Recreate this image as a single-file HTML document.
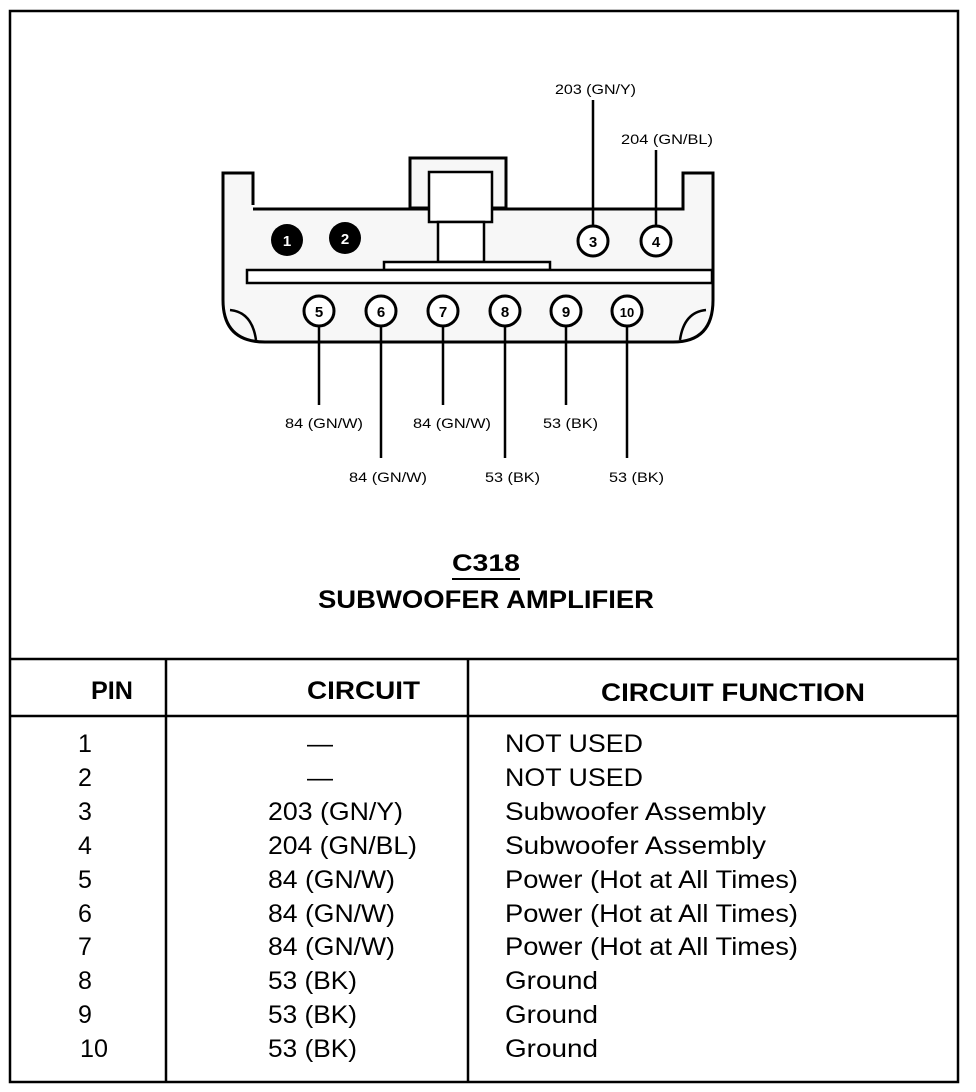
<!DOCTYPE html>
<html><head><meta charset="utf-8"><style>
html,body{margin:0;padding:0;background:#fff}
svg{display:block}
text{font-family:"Liberation Sans",sans-serif;fill:#000}
</style></head><body>
<svg width="976" height="1092" viewBox="0 0 976 1092">
<rect x="10" y="11" width="948" height="1071" fill="none" stroke="#000" stroke-width="2.5"/>
<g fill="none" stroke="#000" stroke-width="3">
<path d="M253,205 L253,173 L223,173 L223,300 Q223,342 265,342 L673,342 Q713,342 713,300 L713,173 L683,173 L683,209 L253,209" fill="#f7f7f7"/>
<path d="M230,310 Q252,312 256,340" stroke-width="2.5"/>
<path d="M706,310 Q684,312 680,340" stroke-width="2.5"/>
<rect x="410" y="158" width="96" height="50" fill="#f7f7f7"/>
<rect x="429" y="172" width="63" height="50" fill="#fff" stroke-width="2.5"/>
<rect x="438" y="222" width="46" height="40" fill="#fff" stroke-width="2.5"/>
<rect x="384" y="262" width="166" height="8" fill="#fff" stroke-width="2.5"/>
<rect x="247" y="270" width="465" height="13" fill="#fff" stroke-width="2.5"/>
</g>
<g stroke="#000" stroke-width="2.5">
<line x1="593" y1="100" x2="593" y2="226"/>
<line x1="656" y1="150" x2="656" y2="226"/>
<line x1="319" y1="325" x2="319" y2="405"/>
<line x1="381" y1="325" x2="381" y2="458"/>
<line x1="443" y1="325" x2="443" y2="405"/>
<line x1="505" y1="325" x2="505" y2="458"/>
<line x1="566" y1="325" x2="566" y2="405"/>
<line x1="627" y1="325" x2="627" y2="458"/>
</g>
<circle cx="287" cy="240" r="16" fill="#000"/>
<circle cx="345" cy="238" r="16" fill="#000"/>
<g fill="#fff" stroke="#000" stroke-width="3">
<circle cx="593" cy="241" r="15"/><circle cx="656" cy="241" r="15"/>
<circle cx="319" cy="311" r="15"/><circle cx="381" cy="311" r="15"/>
<circle cx="443" cy="311" r="15"/><circle cx="505" cy="311" r="15"/>
<circle cx="566" cy="311" r="15"/><circle cx="627" cy="311" r="15"/>
</g>
<g font-size="15" font-weight="bold" text-anchor="middle">
<text x="287" y="246" style="fill:#fff">1</text>
<text x="345" y="244" style="fill:#fff">2</text>
<text x="593" y="247">3</text><text x="656" y="247">4</text>
<text x="319" y="317">5</text><text x="381" y="317">6</text>
<text x="443" y="317">7</text><text x="505" y="317">8</text>
<text x="566" y="317">9</text><text x="627" y="317" font-size="13">10</text>
</g>
<g font-size="14" lengthAdjust="spacingAndGlyphs">
<text x="555" y="94" textLength="81" lengthAdjust="spacingAndGlyphs">203 (GN/Y)</text>
<text x="621" y="144" textLength="92" lengthAdjust="spacingAndGlyphs">204 (GN/BL)</text>
<text x="285" y="428" textLength="78" lengthAdjust="spacingAndGlyphs">84 (GN/W)</text>
<text x="413" y="428" textLength="78" lengthAdjust="spacingAndGlyphs">84 (GN/W)</text>
<text x="543" y="428" textLength="55" lengthAdjust="spacingAndGlyphs">53 (BK)</text>
<text x="349" y="482" textLength="78" lengthAdjust="spacingAndGlyphs">84 (GN/W)</text>
<text x="485" y="482" textLength="55" lengthAdjust="spacingAndGlyphs">53 (BK)</text>
<text x="609" y="482" textLength="55" lengthAdjust="spacingAndGlyphs">53 (BK)</text>
</g>
<text x="452" y="571" font-size="24" font-weight="bold" textLength="68" lengthAdjust="spacingAndGlyphs">C318</text>
<line x1="452" y1="579" x2="520" y2="579" stroke="#000" stroke-width="2"/>
<text x="318" y="608" font-size="25" font-weight="bold" textLength="336" lengthAdjust="spacingAndGlyphs">SUBWOOFER AMPLIFIER</text>
<g stroke="#000" stroke-width="2.5">
<line x1="10" y1="659" x2="958" y2="659"/>
<line x1="10" y1="716" x2="958" y2="716"/>
<line x1="166" y1="659" x2="166" y2="1082"/>
<line x1="468" y1="659" x2="468" y2="1082"/>
</g>
<g font-size="25" font-weight="bold">
<text x="91" y="699" textLength="42" lengthAdjust="spacingAndGlyphs">PIN</text>
<text x="307" y="699" textLength="113" lengthAdjust="spacingAndGlyphs">CIRCUIT</text>
<text x="601" y="701" textLength="264" lengthAdjust="spacingAndGlyphs">CIRCUIT FUNCTION</text>
</g>
<g font-size="25">
<text x="78" y="752">1</text><text x="78" y="786">2</text><text x="78" y="820">3</text>
<text x="78" y="854">4</text><text x="78" y="888">5</text><text x="78" y="922">6</text>
<text x="78" y="955">7</text><text x="78" y="989">8</text><text x="78" y="1023">9</text>
<text x="80" y="1057" textLength="28" lengthAdjust="spacingAndGlyphs">10</text>
<text x="307" y="752" textLength="26" lengthAdjust="spacingAndGlyphs">—</text>
<text x="307" y="786" textLength="26" lengthAdjust="spacingAndGlyphs">—</text>
<text x="268" y="820" textLength="135" lengthAdjust="spacingAndGlyphs">203 (GN/Y)</text>
<text x="268" y="854" textLength="149" lengthAdjust="spacingAndGlyphs">204 (GN/BL)</text>
<text x="268" y="888" textLength="127" lengthAdjust="spacingAndGlyphs">84 (GN/W)</text>
<text x="268" y="922" textLength="127" lengthAdjust="spacingAndGlyphs">84 (GN/W)</text>
<text x="268" y="955" textLength="127" lengthAdjust="spacingAndGlyphs">84 (GN/W)</text>
<text x="268" y="989" textLength="89" lengthAdjust="spacingAndGlyphs">53 (BK)</text>
<text x="268" y="1023" textLength="89" lengthAdjust="spacingAndGlyphs">53 (BK)</text>
<text x="268" y="1057" textLength="89" lengthAdjust="spacingAndGlyphs">53 (BK)</text>
<text x="505" y="752" textLength="138" lengthAdjust="spacingAndGlyphs">NOT USED</text>
<text x="505" y="786" textLength="138" lengthAdjust="spacingAndGlyphs">NOT USED</text>
<text x="505" y="820" textLength="261" lengthAdjust="spacingAndGlyphs">Subwoofer Assembly</text>
<text x="505" y="854" textLength="261" lengthAdjust="spacingAndGlyphs">Subwoofer Assembly</text>
<text x="505" y="888" textLength="293" lengthAdjust="spacingAndGlyphs">Power (Hot at All Times)</text>
<text x="505" y="922" textLength="293" lengthAdjust="spacingAndGlyphs">Power (Hot at All Times)</text>
<text x="505" y="955" textLength="293" lengthAdjust="spacingAndGlyphs">Power (Hot at All Times)</text>
<text x="505" y="989" textLength="93" lengthAdjust="spacingAndGlyphs">Ground</text>
<text x="505" y="1023" textLength="93" lengthAdjust="spacingAndGlyphs">Ground</text>
<text x="505" y="1057" textLength="93" lengthAdjust="spacingAndGlyphs">Ground</text>
</g>
</svg>
</body></html>
